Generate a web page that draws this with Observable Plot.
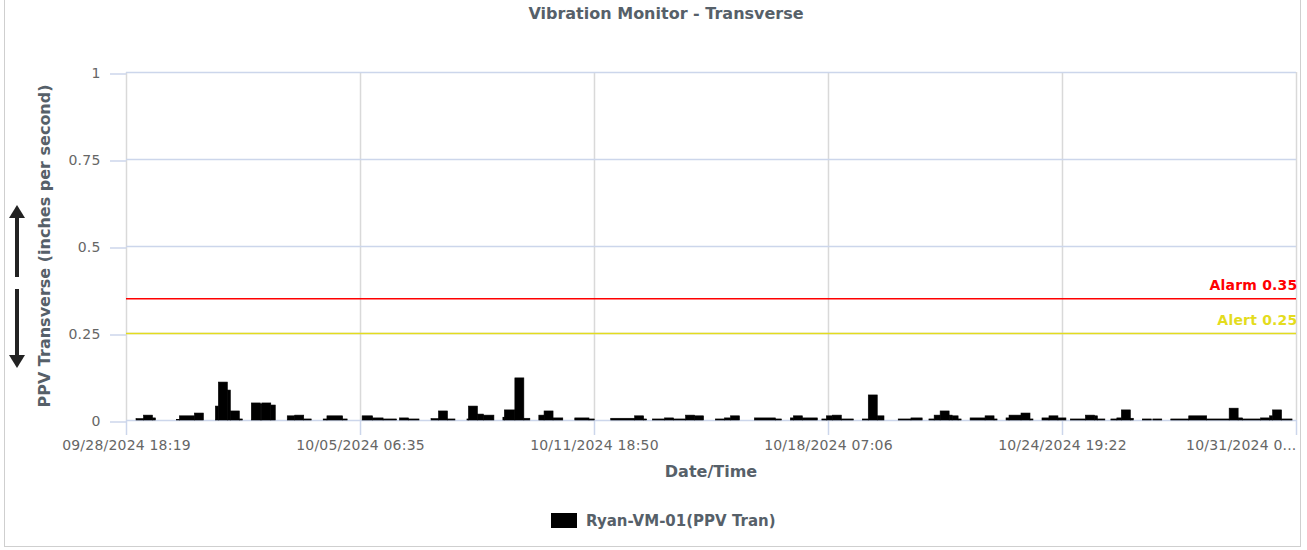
<!DOCTYPE html>
<html>
<head>
<meta charset="utf-8">
<script src="https://cdn.jsdelivr.net/npm/d3@7"></script>
<script src="https://cdn.jsdelivr.net/npm/@observablehq/plot@0.6"></script>
<style>
  html, body { margin: 0; padding: 0; background: #fff; }
  #wrap { position: relative; width: 1307px; height: 550px; overflow: hidden;
          font-family: "DejaVu Sans", Verdana, sans-serif; }
  #frame { position: absolute; left: 4px; top: -2px; width: 1297px; height: 549px;
           border: 1px solid #cfcfcf; box-sizing: border-box; }
  #title { position: absolute; left: 666px; top: 6px; transform: translateX(-50%);
           font-size: 16px; line-height: 16px; font-weight: bold; color: #566069; white-space: nowrap; }
  #chart { position: absolute; left: 0; top: 30px; }
  #chart svg text { letter-spacing: 0.2px; }
  #ylabel { position: absolute; left: 45px; top: 246px; transform: translate(-50%, -50%) rotate(-90deg);
            font-size: 16px; line-height: 16px; font-weight: bold; color: #566069; white-space: nowrap; }
  #xlabel { position: absolute; left: 711px; top: 464px; transform: translateX(-50%);
            font-size: 16px; line-height: 16px; font-weight: bold; color: #566069; white-space: nowrap; }
  #legend { position: absolute; left: 551px; top: 513px; height: 16px; white-space: nowrap; }
  #legend .sw { position: absolute; left: 0; top: 0; width: 26px; height: 15px; background: #000; }
  #legend .lb { position: absolute; left: 35px; top: 1px; font-size: 15px; line-height: 15px;
                font-weight: bold; color: #566069; }
  #arrows { position: absolute; left: 0; top: 0; }
</style>
</head>
<body>
<div id="wrap">
  <div id="frame"></div>
  <div id="title"></div>
  <div id="chart"></div>
  <div id="ylabel"></div>
  <div id="xlabel"></div>
  <svg id="arrows" width="40" height="550">
    <line x1="17" y1="277" x2="17" y2="214" stroke="#222" stroke-width="4"/>
    <polygon points="17,205 9,218 25,218" fill="#222"/>
    <line x1="17" y1="289" x2="17" y2="358" stroke="#222" stroke-width="4"/>
    <polygon points="17,368 9,355 25,355" fill="#222"/>
  </svg>
  <div id="legend"><div class="sw"></div><div class="lb"></div></div>
</div>
<script>
// ---- Chart texts ----
const titleText = "Vibration Monitor - Transverse";
const yLabelText = "PPV Transverse (inches per second)";
const xLabelText = "Date/Time";
const seriesName = "Ryan-VM-01(PPV Tran)";

// ---- Axis ticks ----
const tickTimes = ["2024-09-28 18:19", "2024-10-05 06:35", "2024-10-11 18:50",
                   "2024-10-18 07:06", "2024-10-24 19:22", "2024-10-31 07:38"];
const xTickLabels = ["09/28/2024 18:19", "10/05/2024 06:35", "10/11/2024 18:50",
                     "10/18/2024 07:06", "10/24/2024 19:22", "10/31/2024 0..."];
const yTicks = [0, 0.25, 0.5, 0.75, 1];

// ---- Thresholds ----
const thresholdNames = ["Alarm", "Alert"];
const thresholdValues = [0.35, 0.25];
const thresholdColors = ["#ff0000", "#e4dc1e"];

// ---- Series: PPV per interval (start, end, value) ----
const starts = [
  "2024-09-29 01:00","2024-09-29 06:00","2024-09-29 12:00",
  "2024-09-30 04:00","2024-09-30 06:00","2024-09-30 16:00",
  "2024-10-01 06:00","2024-10-01 08:00","2024-10-01 14:00","2024-10-01 16:00","2024-10-01 22:00",
  "2024-10-02 06:00","2024-10-02 12:00","2024-10-02 13:00","2024-10-02 19:00",
  "2024-10-03 06:00","2024-10-03 11:00","2024-10-03 17:00",
  "2024-10-04 06:00","2024-10-04 08:30","2024-10-04 19:00",
  "2024-10-05 08:00","2024-10-05 15:00","2024-10-05 22:00",
  "2024-10-06 09:00","2024-10-06 15:00",
  "2024-10-07 06:00","2024-10-07 11:00","2024-10-07 17:00",
  "2024-10-08 06:00","2024-10-08 07:00","2024-10-08 13:00","2024-10-08 17:00",
  "2024-10-09 06:00","2024-10-09 07:00","2024-10-09 14:00","2024-10-09 20:00",
  "2024-10-10 06:00","2024-10-10 09:30","2024-10-10 15:30",
  "2024-10-11 06:00","2024-10-11 15:30",
  "2024-10-12 06:00","2024-10-12 22:00","2024-10-13 04:00",
  "2024-10-13 10:00","2024-10-13 18:00",
  "2024-10-14 00:00","2024-10-14 08:00","2024-10-14 14:00",
  "2024-10-15 04:00","2024-10-15 10:00","2024-10-15 14:00",
  "2024-10-16 06:00","2024-10-16 20:00",
  "2024-10-17 06:00","2024-10-17 08:00","2024-10-17 14:00",
  "2024-10-18 03:00","2024-10-18 06:00","2024-10-18 10:00","2024-10-18 16:00",
  "2024-10-19 06:00","2024-10-19 10:00","2024-10-19 16:00",
  "2024-10-20 06:00","2024-10-20 14:30",
  "2024-10-21 02:30","2024-10-21 06:00","2024-10-21 10:00","2024-10-21 16:00","2024-10-21 18:00","2024-10-21 22:00",
  "2024-10-22 06:00","2024-10-22 16:00","2024-10-22 22:00",
  "2024-10-23 06:00","2024-10-23 08:00","2024-10-23 16:00","2024-10-23 22:00",
  "2024-10-24 06:00","2024-10-24 10:40","2024-10-24 16:40",
  "2024-10-25 01:00","2024-10-25 11:00","2024-10-25 17:00","2024-10-25 19:00",
  "2024-10-26 04:00","2024-10-26 08:00","2024-10-26 11:00","2024-10-26 17:00",
  "2024-10-27 01:00","2024-10-27 08:00","2024-10-27 20:00",
  "2024-10-28 08:00","2024-10-28 20:00",
  "2024-10-29 11:00","2024-10-29 17:00","2024-10-29 20:00",
  "2024-10-30 08:00","2024-10-30 14:00","2024-10-30 16:00","2024-10-30 22:00"
];
const ends = [
  "2024-09-29 06:00","2024-09-29 12:00","2024-09-29 14:00",
  "2024-09-30 06:00","2024-09-30 16:00","2024-09-30 22:00",
  "2024-10-01 08:00","2024-10-01 14:00","2024-10-01 16:00","2024-10-01 22:00","2024-10-02 00:00",
  "2024-10-02 12:00","2024-10-02 13:00","2024-10-02 19:00","2024-10-02 22:00",
  "2024-10-03 11:00","2024-10-03 17:00","2024-10-03 22:00",
  "2024-10-04 08:30","2024-10-04 19:00","2024-10-04 22:00",
  "2024-10-05 15:00","2024-10-05 22:00","2024-10-06 07:00",
  "2024-10-06 15:00","2024-10-06 22:00",
  "2024-10-07 11:00","2024-10-07 17:00","2024-10-07 22:00",
  "2024-10-08 07:00","2024-10-08 13:00","2024-10-08 17:00","2024-10-09 00:00",
  "2024-10-09 07:00","2024-10-09 14:00","2024-10-09 20:00","2024-10-10 00:00",
  "2024-10-10 09:30","2024-10-10 15:30","2024-10-10 22:00",
  "2024-10-11 15:30","2024-10-11 19:00",
  "2024-10-12 22:00","2024-10-13 04:00","2024-10-13 06:00",
  "2024-10-13 18:00","2024-10-14 00:00",
  "2024-10-14 08:00","2024-10-14 14:00","2024-10-14 20:00",
  "2024-10-15 10:00","2024-10-15 14:00","2024-10-15 20:00",
  "2024-10-16 20:00","2024-10-17 00:00",
  "2024-10-17 08:00","2024-10-17 14:00","2024-10-18 00:00",
  "2024-10-18 06:00","2024-10-18 10:00","2024-10-18 16:00","2024-10-19 00:00",
  "2024-10-19 10:00","2024-10-19 16:00","2024-10-19 20:30",
  "2024-10-20 14:30","2024-10-20 22:00",
  "2024-10-21 06:00","2024-10-21 10:00","2024-10-21 16:00","2024-10-21 18:00","2024-10-21 22:00","2024-10-22 00:00",
  "2024-10-22 16:00","2024-10-22 22:00","2024-10-23 00:00",
  "2024-10-23 08:00","2024-10-23 16:00","2024-10-23 22:00","2024-10-24 00:00",
  "2024-10-24 10:40","2024-10-24 16:40","2024-10-24 22:00",
  "2024-10-25 11:00","2024-10-25 17:00","2024-10-25 19:00","2024-10-26 00:00",
  "2024-10-26 08:00","2024-10-26 11:00","2024-10-26 17:00","2024-10-26 19:00",
  "2024-10-27 07:00","2024-10-27 14:00","2024-10-28 08:00",
  "2024-10-28 20:00","2024-10-29 11:00",
  "2024-10-29 17:00","2024-10-29 20:00","2024-10-30 08:00",
  "2024-10-30 14:00","2024-10-30 16:00","2024-10-30 22:00","2024-10-31 05:00"
];
const values = [
  0.004, 0.014, 0.006,
  0.002, 0.012, 0.020,
  0.040, 0.109, 0.086, 0.026, 0.003,
  0.049, 0.046, 0.049, 0.043,
  0.012, 0.014, 0.003,
  0.003, 0.012, 0.003,
  0.012, 0.006, 0.003,
  0.006, 0.003,
  0.004, 0.026, 0.003,
  0.003, 0.040, 0.017, 0.014,
  0.008, 0.029, 0.121, 0.005,
  0.014, 0.026, 0.006,
  0.006, 0.003,
  0.005, 0.012, 0.003,
  0.003, 0.006,
  0.003, 0.014, 0.012,
  0.003, 0.006, 0.012,
  0.006, 0.003,
  0.006, 0.012, 0.006,
  0.003, 0.012, 0.014, 0.003,
  0.003, 0.072, 0.012,
  0.003, 0.006,
  0.003, 0.014, 0.026, 0.014, 0.012, 0.003,
  0.006, 0.012, 0.003,
  0.006, 0.014, 0.020, 0.003,
  0.006, 0.012, 0.006,
  0.003, 0.014, 0.012, 0.003,
  0.003, 0.006, 0.029, 0.005,
  0.003, 0.003, 0.003,
  0.012, 0.003,
  0.034, 0.006, 0.003,
  0.006, 0.012, 0.029, 0.003
];

// ---- Build ----
const parse = d3.utcParse("%Y-%m-%d %H:%M");
const bars = starts.map((s, i) => ({ start: parse(s), end: parse(ends[i]), value: values[i] }));
const xt = tickTimes.map(parse);
const labelFor = d => xTickLabels[xt.findIndex(t => +t === +d)];
const thresholds = thresholdNames.map((n, i) => ({ name: n, value: thresholdValues[i], color: thresholdColors[i] }));

document.getElementById("title").textContent = titleText;
document.getElementById("ylabel").textContent = yLabelText;
document.getElementById("xlabel").textContent = xLabelText;
document.querySelector("#legend .lb").textContent = seriesName;

const plot = Plot.plot({
  width: 1307,
  height: 470,
  marginLeft: 126,
  marginRight: 11,
  marginTop: 42,
  marginBottom: 80,
  style: { fontFamily: '"DejaVu Sans", Verdana, sans-serif', fontSize: "14px", background: "transparent", color: "#666" },
  x: { type: "utc", domain: [xt[0], xt[xt.length - 1]] },
  y: { domain: [0, 1] },
  marks: [
    Plot.gridX(xt, { stroke: "#d9d9d9", strokeOpacity: 1, strokeWidth: 1.5 }),
    Plot.gridY(yTicks.filter(d => d > 0), { stroke: "#ccd6eb", strokeOpacity: 1, strokeWidth: 1.5 }),
    Plot.axisY(yTicks, { tickSize: 16, tickPadding: 10, stroke: "#ccd6eb", strokeWidth: 1.5, fill: "#666",
                         tickFormat: d => String(d), label: null, fontSize: 14, dy: 1.5 }),
    Plot.axisX(xt.slice(0, xt.length - 1), { tickSize: 15, tickPadding: 5, stroke: "#ccd6eb", strokeWidth: 1.5,
                         fill: "#666", tickFormat: labelFor, label: null, fontSize: 14 }),
    Plot.axisX(xt.slice(xt.length - 1), { tickSize: 15, tickPadding: 5, stroke: "#ccd6eb", strokeWidth: 1.5,
                         fill: "#666", tickFormat: labelFor, label: null, fontSize: 14, textAnchor: "end" }),
    Plot.ruleY([0], { stroke: "#ccd6eb", strokeWidth: 1.5 }),
    Plot.rectY(bars, { x1: "start", x2: "end", y: "value", fill: "#000", stroke: "#000", strokeWidth: 0.6, inset: 0 }),
    Plot.ruleY(thresholds, { y: "value", stroke: "color", strokeWidth: 1.5 }),
    Plot.text(thresholds, { y: "value", text: d => `${d.name} ${d.value}`, fill: "color",
                            frameAnchor: "right", textAnchor: "end", dy: -13, dx: 1,
                            fontWeight: "bold", fontSize: 14 })
  ]
});
document.getElementById("chart").appendChild(plot);
</script>
</body>
</html>
